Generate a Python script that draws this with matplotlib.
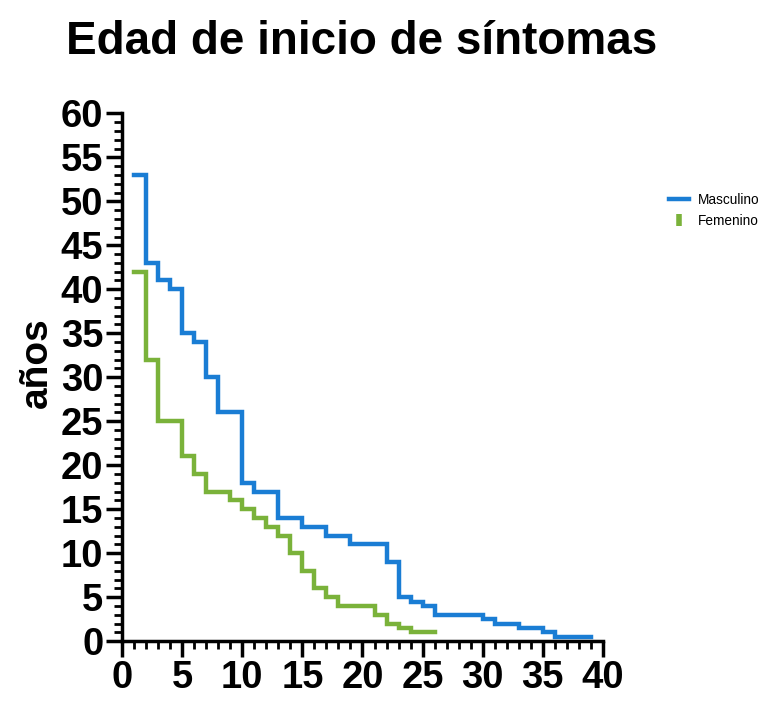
import matplotlib
matplotlib.use("Agg")
import matplotlib.pyplot as plt
from matplotlib.lines import Line2D
from matplotlib.ticker import MultipleLocator

plt.rcParams['font.family'] = ['Liberation Sans', 'DejaVu Sans']

# Data
masc_x = [1, 2, 3, 4, 5, 6, 7, 8, 10, 11, 13, 15, 17, 19, 22, 23, 24, 25, 26, 30, 31, 33, 35, 36, 39]
masc_y = [53, 43, 41, 40, 35, 34, 30, 26, 18, 17, 14, 13, 12, 11, 9, 5, 4.5, 4, 3, 2.5, 2, 1.5, 1, 0.5, 0.5]
fem_x = [1, 2, 3, 5, 6, 7, 9, 10, 11, 12, 13, 14, 15, 16, 17, 18, 21, 22, 23, 24, 26]
fem_y = [42, 32, 25, 21, 19, 17, 16, 15, 14, 13, 12, 10, 8, 6, 5, 4, 3, 2, 1.5, 1, 1]
series_names = ["Masculino", "Femenino"]
title = "Edad de inicio de síntomas"
ylabel = "años"

blue = "#1a7dd4"
green = "#7ab23a"

fig = plt.figure(figsize=(7.68, 7.22), dpi=100)
ax = fig.add_axes([0.159, 0.112, 0.626, 0.731])

ax.step(masc_x, masc_y, where='post', color=blue, lw=3.2, solid_joinstyle='miter')
ax.step(fem_x, fem_y, where='post', color=green, lw=3.2, solid_joinstyle='miter')

ax.set_xlim(0, 40)
ax.set_ylim(0, 60)
ax.xaxis.set_major_locator(MultipleLocator(5))
ax.xaxis.set_minor_locator(MultipleLocator(1))
ax.yaxis.set_major_locator(MultipleLocator(5))
ax.yaxis.set_minor_locator(MultipleLocator(1))

for s in ['top', 'right']:
    ax.spines[s].set_visible(False)
for s in ['left', 'bottom']:
    ax.spines[s].set_linewidth(2.5)

ax.tick_params(which='major', length=11.5, width=2.5, labelsize=27.5, pad=2)
ax.tick_params(which='minor', length=5.8, width=2.0)
for lab in ax.get_xticklabels() + ax.get_yticklabels():
    lab.set_fontweight('bold')

ax.set_ylabel(ylabel, fontsize=28, fontweight='bold')
ax.yaxis.set_label_coords(-0.139, 0.527)
fig.text(0.471, 0.942, title, fontsize=33, fontweight='bold', ha='center', va='center')

handles = [
    Line2D([], [], color=blue, lw=3.2),
    Line2D([], [], color=green, lw=0, marker='|', markersize=8, markeredgewidth=4),
]
fig.legend(handles, series_names, loc='upper left', bbox_to_anchor=(0.855, 0.750),
           frameon=False, fontsize=9.8, handlelength=1.5, handletextpad=0.6,
           labelspacing=0.55)

fig.savefig("out.png", dpi=100)
